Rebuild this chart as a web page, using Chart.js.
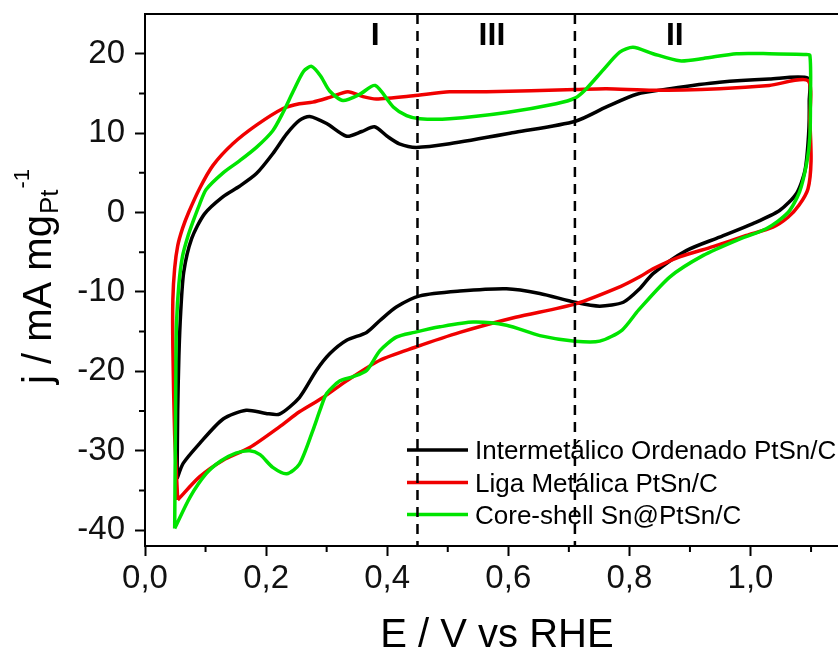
<!DOCTYPE html>
<html>
<head>
<meta charset="utf-8">
<script src="https://cdn.jsdelivr.net/npm/chart.js@4.4.0/dist/chart.umd.min.js"></script>
<style>
  html, body { margin: 0; padding: 0; background: #fff; }
  #wrap { width: 838px; height: 649px; }
</style>
</head>
<body>
<div id="wrap"><canvas id="cv"></canvas></div>
<script>
// series names / colours (legend order)
const seriesNames = ['Intermetálico Ordenado PtSn/C', 'Liga Metálica PtSn/C', 'Core-shell Sn@PtSn/C'];
const seriesColors = ['#000000', '#f00000', '#00e400'];

// Intermetálico Ordenado PtSn/C  (anodic sweep, then cathodic back)
const interE = [0.053, 0.054, 0.056, 0.059, 0.064, 0.077, 0.098, 0.129, 0.156, 0.184, 0.211, 0.234, 0.255, 0.272, 0.300, 0.333, 0.358, 0.379, 0.400, 0.420, 0.448, 0.503, 0.612, 0.711, 0.762, 0.812, 0.867, 0.949, 1.031, 1.095,
  1.097, 1.096, 1.090, 1.076, 1.048, 1.004, 0.949, 0.894, 0.839, 0.817, 0.790, 0.751, 0.710, 0.652, 0.597, 0.520, 0.454, 0.415, 0.388, 0.366, 0.333, 0.305, 0.283, 0.255, 0.222, 0.200, 0.167, 0.129, 0.090, 0.063, 0.053];
const interJ = [-33.5, -25, -18, -12.5, -7.5, -3.3, -0.2, 2.0, 3.3, 4.9, 7.4, 9.9, 11.6, 12.1, 11.2, 9.6, 10.2, 10.8, 9.6, 8.65, 8.2, 8.65, 10.1, 11.5, 13.3, 14.9, 15.6, 16.4, 16.8, 16.9,
  14, 9.9, 5.3, 2.4, 0.25, -1.4, -3.1, -4.8, -7.7, -9.6, -11.3, -11.8, -11.3, -10.2, -9.6, -9.9, -10.5, -11.9, -13.6, -15.1, -16.1, -17.8, -19.9, -23.3, -25.4, -25.3, -24.9, -26, -29.1, -31.6, -33.5];

// Liga Metálica PtSn/C
const ligaE = [0.054, 0.049, 0.046, 0.046, 0.049, 0.054, 0.062, 0.072, 0.090, 0.112, 0.145, 0.184, 0.228, 0.255, 0.277, 0.305, 0.335, 0.360, 0.382, 0.443, 0.503, 0.564, 0.711, 0.762, 0.839, 0.949, 1.031, 1.095,
  1.098, 1.100, 1.095, 1.080, 1.062, 1.037, 0.993, 0.938, 0.883, 0.839, 0.817, 0.786, 0.711, 0.612, 0.520, 0.445, 0.388, 0.333, 0.294, 0.255, 0.222, 0.173, 0.129, 0.090, 0.054];
const ligaJ = [-36.2, -28, -17, -11, -7, -4.2, -2, 0, 3.0, 5.9, 8.65, 11, 13.1, 13.7, 13.9, 14.5, 15.2, 14.6, 14.3, 14.7, 15.2, 15.2, 15.5, 15.6, 15.4, 15.6, 16, 16.6,
  11.6, 6.5, 3, 0.9, -0.6, -1.85, -2.9, -4.3, -5.6, -7.1, -8.1, -9.3, -11.5, -13.2, -15.1, -17, -18.6, -21.2, -23.3, -25.1, -27, -29.6, -31.2, -33.3, -36.2];

// Core-shell Sn@PtSn/C
const coreE = [0.049, 0.050, 0.051, 0.052, 0.056, 0.062, 0.070, 0.080, 0.090, 0.101, 0.129, 0.156, 0.184, 0.211, 0.228, 0.245, 0.262, 0.275, 0.290, 0.305, 0.327, 0.355, 0.380, 0.410, 0.432, 0.454, 0.503, 0.597, 0.679, 0.710, 0.729, 0.756, 0.784, 0.806, 0.839, 0.883, 0.922, 0.977, 1.031, 1.088, 1.098,
  1.099, 1.098, 1.093, 1.081, 1.062, 1.026, 0.977, 0.922, 0.867, 0.815, 0.788, 0.751, 0.710, 0.652, 0.597, 0.542, 0.487, 0.445, 0.415, 0.388, 0.366, 0.343, 0.322, 0.300, 0.289, 0.277, 0.255, 0.234, 0.211, 0.190, 0.173, 0.150, 0.125, 0.101, 0.074, 0.049];
const coreJ = [-39.8, -30, -20, -14, -9, -5.5, -3.2, -1, 1, 2.9, 5.0, 6.5, 8.2, 10.3, 12.6, 15.3, 17.8, 18.4, 17.2, 15.3, 14.1, 14.9, 16.0, 13.3, 12.2, 11.8, 11.8, 12.6, 13.7, 14.4, 15.6, 17.9, 20.2, 20.8, 20, 19.1, 19.4, 20, 20, 19.9, 19.8,
  14, 9.5, 6.3, 2.6, 0, -2.05, -3.5, -5.4, -8.1, -12.3, -14.8, -16.2, -16.2, -15.5, -14.2, -13.8, -14.4, -15.1, -15.7, -17.4, -19.9, -20.7, -21.2, -22.8, -24.9, -27.5, -31.7, -32.9, -32.1, -30.5, -30, -30.3, -31.3, -32.9, -35.9, -39.8];

// axes
const xTickVals = [0, 0.2, 0.4, 0.6, 0.8, 1.0];
const xMinorVals = [0.1, 0.3, 0.5, 0.7, 0.9, 1.1];
const yTickVals = [-40, -30, -20, -10, 0, 10, 20];
const yMinorVals = [-35, -25, -15, -5, 5, 15];

// region markers
const boundE = [0.45, 0.71];
const regionNames = ['I', 'III', 'II'];
const regionE = [0.38, 0.573, 0.875];

function toPoints(xs, ys) {
  return xs.map((x, i) => ({ x: x, y: ys[i] }));
}

const lineStyle = {
  showLine: true,
  pointRadius: 0,
  borderWidth: 3.5,
  tension: 0.25,
  fill: false
};

const extras = {
  id: 'extras',
  afterDatasetsDraw(chart) {
    const ctx = chart.ctx;
    const area = chart.chartArea;
    const xs = chart.scales.x;
    const ys = chart.scales.y;
    ctx.save();

    // top frame line
    ctx.strokeStyle = '#000';
    ctx.lineWidth = 2;
    ctx.beginPath();
    ctx.moveTo(area.left, area.top);
    ctx.lineTo(area.right, area.top);
    ctx.stroke();

    // minor ticks
    ctx.beginPath();
    xMinorVals.forEach(v => {
      const px = xs.getPixelForValue(v);
      ctx.moveTo(px, area.bottom);
      ctx.lineTo(px, area.bottom + 6);
    });
    yMinorVals.forEach(v => {
      const py = ys.getPixelForValue(v);
      ctx.moveTo(area.left, py);
      ctx.lineTo(area.left - 6, py);
    });
    ctx.stroke();

    // legend
    const rowY = [450, 482.5, 514.5];
    ctx.font = '26px "Liberation Sans", Arial, sans-serif';
    ctx.textBaseline = 'alphabetic';
    ctx.textAlign = 'left';
    seriesNames.forEach((name, i) => {
      ctx.strokeStyle = seriesColors[i];
      ctx.lineWidth = 3.5;
      ctx.beginPath();
      ctx.moveTo(407, rowY[i]);
      ctx.lineTo(468, rowY[i]);
      ctx.stroke();
      ctx.fillStyle = '#000';
      ctx.fillText(name, 475, rowY[i] + 9);
    });

    // dashed boundaries
    ctx.strokeStyle = '#000';
    ctx.lineWidth = 2.5;
    ctx.setLineDash([10, 7]);
    boundE.forEach(v => {
      const px = xs.getPixelForValue(v);
      ctx.beginPath();
      ctx.moveTo(px, area.top);
      ctx.lineTo(px, area.bottom);
      ctx.stroke();
    });
    ctx.setLineDash([]);

    // region labels
    ctx.font = 'bold 32px "Liberation Sans", Arial, sans-serif';
    ctx.textAlign = 'center';
    ctx.fillStyle = '#000';
    regionNames.forEach((name, i) => {
      ctx.fillText(name, xs.getPixelForValue(regionE[i]), 45);
    });

    // x title
    ctx.font = '40px "Liberation Sans", Arial, sans-serif';
    ctx.fillText('E / V vs RHE', 497, 647);

    // y title (rotated, with sub/superscript)
    ctx.translate(51, 384);
    ctx.rotate(-Math.PI / 2);
    ctx.textAlign = 'left';
    ctx.font = '40px "Liberation Sans", Arial, sans-serif';
    const main = 'j / mA mg';
    ctx.fillText(main, 0, 0);
    let w = ctx.measureText(main).width;
    ctx.font = '26px "Liberation Sans", Arial, sans-serif';
    ctx.fillText('Pt', w + 1, 7);
    w += ctx.measureText('Pt').width + 2;
    ctx.font = '22px "Liberation Sans", Arial, sans-serif';
    ctx.fillText('-1', w, -22);

    ctx.restore();
  }
};

const tickFont = { family: '"Liberation Sans", Arial, sans-serif', size: 33 };

new Chart(document.getElementById('cv'), {
  type: 'scatter',
  data: {
    datasets: [
      Object.assign({ label: seriesNames[0], data: toPoints(interE, interJ), borderColor: seriesColors[0], order: 2 }, lineStyle),
      Object.assign({ label: seriesNames[1], data: toPoints(ligaE, ligaJ), borderColor: seriesColors[1], order: 1 }, lineStyle),
      Object.assign({ label: seriesNames[2], data: toPoints(coreE, coreJ), borderColor: seriesColors[2], order: 0 }, lineStyle)
    ]
  },
  options: {
    responsive: true,
    maintainAspectRatio: false,
    animation: false,
    events: [],
    layout: { padding: { top: 14, left: 0, right: 0, bottom: 0 } },
    plugins: {
      legend: { display: false },
      tooltip: { enabled: false }
    },
    scales: {
      x: {
        type: 'linear',
        min: 0,
        max: 1.1445,
        afterBuildTicks: s => { s.ticks = xTickVals.map(v => ({ value: v })); },
        afterFit: s => { s.height = 103; s.paddingLeft = 0; s.paddingRight = 0; },
        border: { display: true, color: '#000', width: 2 },
        grid: { display: true, drawOnChartArea: false, drawTicks: true, tickLength: 10, tickWidth: 2, tickColor: '#000' },
        ticks: {
          color: '#111',
          font: tickFont,
          padding: 3,
          maxRotation: 0,
          autoSkip: false,
          callback: v => v.toFixed(1).replace('.', ',')
        }
      },
      y: {
        type: 'linear',
        min: -42,
        max: 25,
        afterBuildTicks: s => { s.ticks = yTickVals.map(v => ({ value: v })); },
        afterFit: s => { s.width = 145; s.paddingTop = 0; s.paddingBottom = 0; },
        border: { display: true, color: '#000', width: 2 },
        grid: { display: true, drawOnChartArea: false, drawTicks: true, tickLength: 10, tickWidth: 2, tickColor: '#000' },
        ticks: {
          color: '#111',
          font: tickFont,
          padding: 10,
          autoSkip: false,
          callback: v => String(v)
        }
      }
    }
  },
  plugins: [extras]
});
</script>
</body>
</html>
